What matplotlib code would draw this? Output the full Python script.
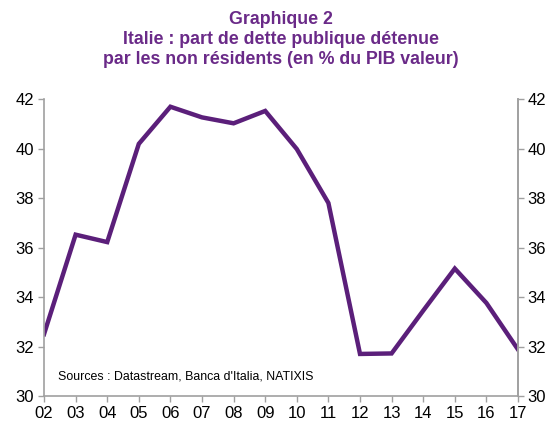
import numpy as np
import matplotlib.pyplot as plt

plt.rcParams['font.family'] = ['Liberation Sans', 'DejaVu Sans']

# Data
years = ["02", "03", "04", "05", "06", "07", "08", "09",
         "10", "11", "12", "13", "14", "15", "16", "17"]
values = [32.5, 36.52, 36.22, 40.19, 41.69, 41.26, 41.02, 41.52,
          39.98, 37.8, 31.7, 31.72, 33.45, 35.15, 33.76, 31.88]
yticks = [30, 32, 34, 36, 38, 40, 42]

purple = '#5b1f7a'
grey = '#a0a0a0'

fig = plt.figure(figsize=(5.53, 4.23), dpi=100)
ax = fig.add_axes([0.0796, 0.0638, 0.8571, 0.702])

x = np.arange(len(years))
ax.plot(x, values, color=purple, linewidth=3.2, solid_joinstyle='miter')

ax.set_xlim(0, len(years) - 1)
ax.set_ylim(30, 42)
ax.set_xticks(x)
ax.set_xticklabels(years)
ax.set_yticks(yticks)

ax2 = ax.twinx()
ax2.set_ylim(30, 42)
ax2.set_yticks(yticks)

for a in (ax, ax2):
    a.spines['top'].set_visible(False)
    for s in ('left', 'right', 'bottom'):
        a.spines[s].set_color(grey)
        a.spines[s].set_linewidth(1.2)
    a.tick_params(axis='both', direction='out', length=4, width=1,
                  color=grey, labelsize=12, labelcolor='black', pad=3)
ax2.spines['left'].set_visible(False)
ax2.spines['bottom'].set_visible(False)

ax.text(0.03, 0.065, "Sources : Datastream, Banca d'Italia, NATIXIS",
        transform=ax.transAxes, fontsize=8.9, color='black', va='center')

fig.text(0.508, 0.975, "Graphique 2\nItalie : part de dette publique détenue\npar les non résidents (en % du PIB valeur)",
         ha='center', va='top', fontsize=12.8, fontweight='bold',
         color='#6a2a88', linespacing=1.25)

plt.savefig('out.png', dpi=100)
